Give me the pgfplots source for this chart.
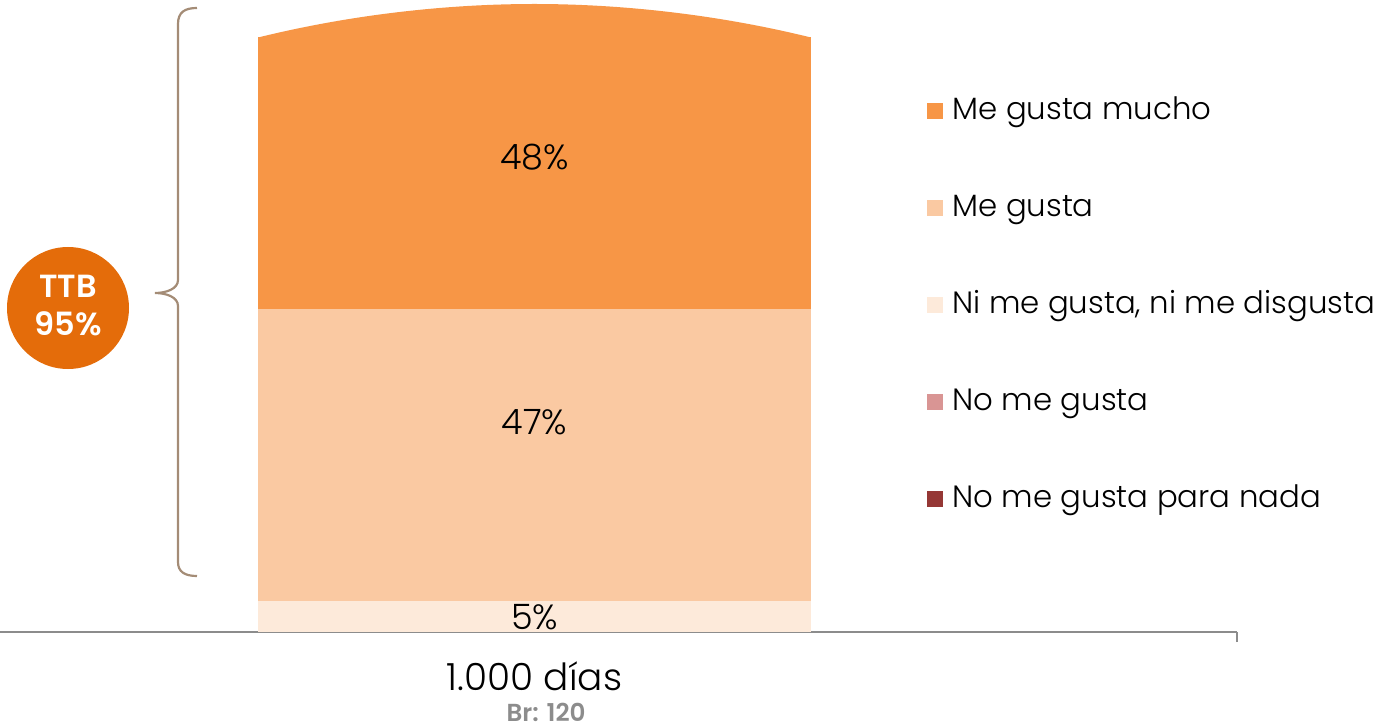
\documentclass[border=0pt]{standalone}
\usepackage{pgfplots}
\pgfplotsset{compat=1.18}
\usepackage{fontspec}
\setmainfont{Poppins}[UprightFont={* Light},BoldFont={* SemiBold}]

\definecolor{cMucho}{HTML}{F79646}
\definecolor{cGusta}{HTML}{FAC9A2}
\definecolor{cNi}{HTML}{FDEADA}
\definecolor{cNo}{HTML}{D99594}
\definecolor{cNada}{HTML}{953735}
\definecolor{cTTB}{HTML}{E46C0A}
\definecolor{cBrace}{HTML}{A48C76}
\definecolor{cAxis}{HTML}{8C8C8C}

\begin{document}
\begin{tikzpicture}
\useasboundingbox (0,0) rectangle (690pt,-363.5pt);
\begin{axis}[
    at={(0pt,-316pt)}, anchor=south west,
    scale only axis, width=618.5pt, height=316pt,
    xmin=0, xmax=1237, ymin=0, ymax=101.6,
    clip=false,
    ybar stacked, bar width=553,
    axis x line*=bottom, axis y line=none,
    x axis line style={cAxis, line width=0.9pt, -},
    xtick={534.5}, xticklabels={1.000 días},
    major tick length=0pt,
    xticklabel style={font=\fontsize{18.7}{22}\selectfont, yshift=-11.5pt},
    extra x ticks={1237}, extra x tick labels={},
    extra x tick style={major tick length=5pt, tick align=outside,
        tick style={cAxis, line width=0.9pt}},
    xlabel={Br: 120},
    xlabel style={at={(axis description cs:0.4415,0)}, anchor=north, inner sep=0pt,
        font=\bfseries\fontsize{12.3}{14}\selectfont, text=cAxis, yshift=-35.5pt},
    /pgf/number format/assume math mode=true,
    nodes near coords={\pgfmathprintnumber\pgfplotspointmeta\%},
    nodes near coords style={font=\fontsize{17.5}{20}\selectfont, anchor=center, text=black},
    legend style={at={(axis description cs:0.7446,0.8560)}, anchor=north west,
        draw=none, fill=none, font=\fontsize{15.4}{19}\selectfont,
        row sep=32.5pt, nodes={inner sep=0pt, text height=12pt, text depth=4pt},
        /tikz/every odd column/.append style={column sep=4.5pt}},
    legend cell align=left, reverse legend,
    legend image code/.code={\fill[#1] (0pt,-4pt) rectangle (8pt,4pt);},
]
\addplot[fill=cNada, draw=none, nodes near coords={}] coordinates {(534.5,0)};
\addlegendentry{No me gusta para nada}
\addplot[fill=cNo, draw=none, nodes near coords={}] coordinates {(534.5,0)};
\addlegendentry{No me gusta}
\addplot[fill=cNi, draw=none,
    every node near coord/.append style={yshift=-0.5pt}] coordinates {(534.5,5)};
\addlegendentry{Ni me gusta, ni me disgusta}
\addplot[fill=cGusta, draw=none,
    every node near coord/.append style={yshift=16.5pt}] coordinates {(534.5,47)};
\addlegendentry{Me gusta}
\addplot[fill=cMucho, draw=none,
    every node near coord/.append style={yshift=1pt}] coordinates {(534.5,48)};
\addlegendentry{Me gusta mucho}
\end{axis}
\begin{scope}[x=0.5pt,y=-0.5pt]
% rounded cap on top of the bar
\fill[white] (257,9) rectangle (812,37);
\fill[cMucho] (258,37.5) parabola bend (534.5,4) (811,37.5) -- cycle;
\draw[cBrace, line width=1.1pt] (197,8) .. controls (185,8) and (178,12) .. (178,24)
    -- (178,280) .. controls (178,289) and (166,293) .. (155,293)
    .. controls (166,293) and (178,297) .. (178,306)
    -- (178,562) .. controls (178,572) and (185,576) .. (197,576);
\fill[cTTB] (68,308) circle[radius=30.5pt];
\node[text=white, align=center, font=\bfseries\fontsize{16}{19}\selectfont] at (68,306) {TTB\\95\%};
\end{scope}
\end{tikzpicture}
\end{document}
